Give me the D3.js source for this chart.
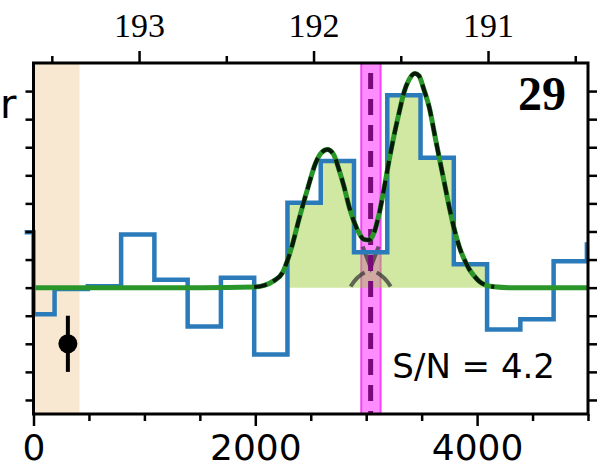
<!DOCTYPE html>
<html>
<head>
<meta charset="utf-8">
<script src="https://cdn.jsdelivr.net/npm/d3@7"></script>
<style>
  html, body { margin: 0; padding: 0; background: #fff; }
  svg { display: block; }
  .tick text { fill: #000; }
</style>
</head>
<body>
<div id="chart"></div>
<script>
// binned spectrum (velocity edges in km/s, flux per bin)
const binEdges = [-80, 0, 190, 490, 790, 1090, 1390, 1690, 1990, 2290, 2590, 2890, 3190, 3490, 3790, 4090, 4390, 4690, 4990, 5000];
const binFlux = [1.97, -0.95, -0.05, 0.05, 1.89, 0.28, -1.38, 0.35, -2.38, 3.02, 4.51, 1.26, 6.85, 4.63, 0.83, -1.49, -1.13, 0.94, 1.54];

// channels counted as line emission (shaded)
const lineStart = 2290;
const lineEnd = 4090;

// double gaussian fit
const fitVel = [0, 1500, 1990, 2080, 2170, 2245, 2325, 2395, 2470, 2545, 2595, 2650, 2705, 2755, 2800, 2845, 2890, 2935, 2980, 3025, 3070, 3115, 3160, 3205, 3250, 3295, 3340, 3385, 3440, 3475, 3520, 3570, 3615, 3660, 3705, 3750, 3795, 3840, 3885, 3930, 3975, 4020, 4065, 4155, 4290, 5000];
const fitFlux = [0, 0, 0.02, 0.08, 0.25, 0.53, 1.4, 2.45, 3.5, 4.45, 4.8, 4.92, 4.75, 4.2, 3.6, 2.9, 2.35, 1.95, 1.72, 1.7, 1.95, 2.6, 3.5, 4.5, 5.4, 6.2, 6.94, 7.4, 7.63, 7.55, 7.06, 6.4, 5.5, 4.6, 3.73, 2.85, 2.07, 1.45, 1.0, 0.65, 0.41, 0.22, 0.11, 0.03, 0, 0];
const fitDashFrom = 1990;
const fitDashTo = 4090;

// systemic velocity and its uncertainty
const sysVel = 3040;
const sysLo = 2955;
const sysHi = 3130;

// channel width band, typical error bar, marker at the dip
const chanBand = [0, 415];
const errPoint = {v: 310, f: -2, err: 1};
const dipMark = {v: 3040, f: 0.72};

const bottomMajor = [0, 2000, 4000];
const bottomMinor = [500, 1000, 1500, 2500, 3000, 3500, 4500, 5000];
const topMajor = [193, 192, 191];
const topMinor = [193.5, 192.5, 191.5, 190.5];
const topDomain = [193.605, 190.427];
const yTicks = [-4, -3, -2, -1, 0, 1, 2, 3, 4, 5, 6, 7];

const panelLabel = '29';
const snText = 'S/N = 4.2';

const width = 607, height = 469;
const plotL = 33.5, plotR = 588, plotT = 63, plotB = 414;

const svg = d3.select('#chart').append('svg')
  .attr('width', width)
  .attr('height', height);

const x = d3.scaleLinear().domain([0, 5000]).range([plotL, plotR]);
const xTop = d3.scaleLinear().domain(topDomain).range([plotL, plotR]);
const y = d3.scaleLinear().domain([-4.5, 8]).range([plotB, plotT]);

// shaded channel band
svg.append('rect')
  .attr('x', x(chanBand[0]))
  .attr('y', plotT)
  .attr('width', x(chanBand[1]) - x(chanBand[0]))
  .attr('height', plotB - plotT)
  .attr('fill', '#f9e8d1');

// systemic velocity band
svg.append('rect')
  .attr('x', x(sysLo))
  .attr('y', plotT)
  .attr('width', x(sysHi) - x(sysLo))
  .attr('height', plotB - plotT)
  .attr('fill', 'rgba(255,0,255,0.45)')
  .attr('stroke', 'rgba(240,40,240,0.8)')
  .attr('stroke-width', 2);

// line emission fill under the histogram
const fillPts = [];
binEdges.forEach((e, i) => {
  if (e >= lineStart && e < lineEnd) fillPts.push([e, binFlux[i]]);
});
fillPts.push([lineEnd, fillPts[fillPts.length - 1][1]]);

svg.append('path')
  .datum(fillPts)
  .attr('fill', 'rgba(154,205,50,0.45)')
  .attr('d', d3.area()
    .curve(d3.curveStepAfter)
    .x(d => x(d[0]))
    .y0(y(0))
    .y1(d => y(d[1])));

// dip marker
const mx = x(dipMark.v), my = y(dipMark.f);
svg.append('path')
  .attr('d', `M${mx - 20},${my + 19} Q${mx - 14},${my + 9} ${mx - 6},${my + 5}
              M${mx + 20},${my + 19} Q${mx + 14},${my + 9} ${mx + 6},${my + 5}
              M${mx - 8},${my - 21} L${mx},${my} L${mx + 8},${my - 21}`)
  .attr('fill', 'none')
  .attr('stroke', 'rgba(55,55,55,0.75)')
  .attr('stroke-width', 4);

// spectrum steps
const stepPts = binEdges.map((e, i) => [e, i < binFlux.length ? binFlux[i] : binFlux[binFlux.length - 1]]);
svg.append('path')
  .datum(stepPts)
  .attr('fill', 'none')
  .attr('stroke', '#2b7bba')
  .attr('stroke-width', 4.5)
  .attr('d', d3.line()
    .curve(d3.curveStepAfter)
    .x(d => x(d[0]))
    .y(d => y(d[1])));

// systemic velocity dashed line
svg.append('line')
  .attr('x1', x(sysVel)).attr('x2', x(sysVel))
  .attr('y1', plotT).attr('y2', plotB)
  .attr('stroke', '#7a0a7a')
  .attr('stroke-width', 5)
  .attr('stroke-dasharray', '16,10')
  .attr('stroke-dashoffset', 16);

// fit curve
const fitPts = fitVel.map((v, i) => [v, fitFlux[i]]);
const fitLine = d3.line()
  .curve(d3.curveMonotoneX)
  .x(d => x(d[0]))
  .y(d => y(d[1]));

svg.append('path')
  .datum(fitPts)
  .attr('fill', 'none')
  .attr('stroke', '#2a962a')
  .attr('stroke-width', 5)
  .attr('d', fitLine);

svg.append('path')
  .datum(fitPts.filter(d => d[0] >= fitDashFrom && d[0] <= fitDashTo + 80))
  .attr('fill', 'none')
  .attr('stroke', '#0a1a0a')
  .attr('stroke-width', 4)
  .attr('stroke-dasharray', '13,7')
  .attr('d', fitLine);

// typical error bar
svg.append('line')
  .attr('x1', x(errPoint.v)).attr('x2', x(errPoint.v))
  .attr('y1', y(errPoint.f - errPoint.err)).attr('y2', y(errPoint.f + errPoint.err))
  .attr('stroke', '#000')
  .attr('stroke-width', 4);
svg.append('circle')
  .attr('cx', x(errPoint.v))
  .attr('cy', y(errPoint.f))
  .attr('r', 9.5)
  .attr('fill', '#000');

// axes
function styleAxis(g) {
  g.select('.domain').remove();
  g.selectAll('.tick line').attr('stroke', '#000').attr('stroke-width', 2.5);
}

svg.append('g')
  .attr('transform', `translate(0,${plotB})`)
  .call(d3.axisBottom(x).tickValues(bottomMajor).tickSize(12).tickPadding(8).tickFormat(d3.format('d')))
  .call(styleAxis)
  .call(g => g.selectAll('text')
    .attr('font-family', 'DejaVu Sans, sans-serif')
    .attr('font-size', 36));

svg.append('g')
  .attr('transform', `translate(0,${plotB})`)
  .call(d3.axisBottom(x).tickValues(bottomMinor).tickSize(7).tickFormat(''))
  .call(styleAxis);

svg.append('g')
  .attr('transform', `translate(0,${plotT})`)
  .call(d3.axisTop(xTop).tickValues(topMajor).tickSize(12).tickPadding(14).tickFormat(d3.format('d')))
  .call(styleAxis)
  .call(g => g.selectAll('text')
    .attr('font-family', 'Liberation Serif, serif')
    .attr('font-size', 34));

svg.append('g')
  .attr('transform', `translate(0,${plotT})`)
  .call(d3.axisTop(xTop).tickValues(topMinor).tickSize(7).tickFormat(''))
  .call(styleAxis);

svg.append('g')
  .attr('transform', `translate(${plotL},0)`)
  .call(d3.axisLeft(y).tickValues(yTicks).tickSize(8).tickFormat(''))
  .call(styleAxis);

svg.append('g')
  .attr('transform', `translate(${plotR},0)`)
  .call(d3.axisRight(y).tickValues(yTicks).tickSize(9).tickFormat(''))
  .call(styleAxis);

// frame
svg.append('rect')
  .attr('x', plotL).attr('y', plotT)
  .attr('width', plotR - plotL).attr('height', plotB - plotT)
  .attr('fill', 'none')
  .attr('stroke', '#000')
  .attr('stroke-width', 3);

// labels
svg.append('text')
  .attr('x', 566).attr('y', 110)
  .attr('text-anchor', 'end')
  .attr('font-family', 'Liberation Serif, serif')
  .attr('font-weight', 'bold')
  .attr('font-size', 48)
  .text(panelLabel);

svg.append('text')
  .attr('x', 555).attr('y', 378)
  .attr('text-anchor', 'end')
  .attr('font-family', 'DejaVu Sans, sans-serif')
  .attr('font-size', 34)
  .text(snText);

// fragment of the neighbouring panel's label
svg.append('text')
  .attr('x', 0).attr('y', 118)
  .attr('font-family', 'DejaVu Sans, sans-serif')
  .attr('font-size', 40)
  .text('r');
</script>
</body>
</html>
